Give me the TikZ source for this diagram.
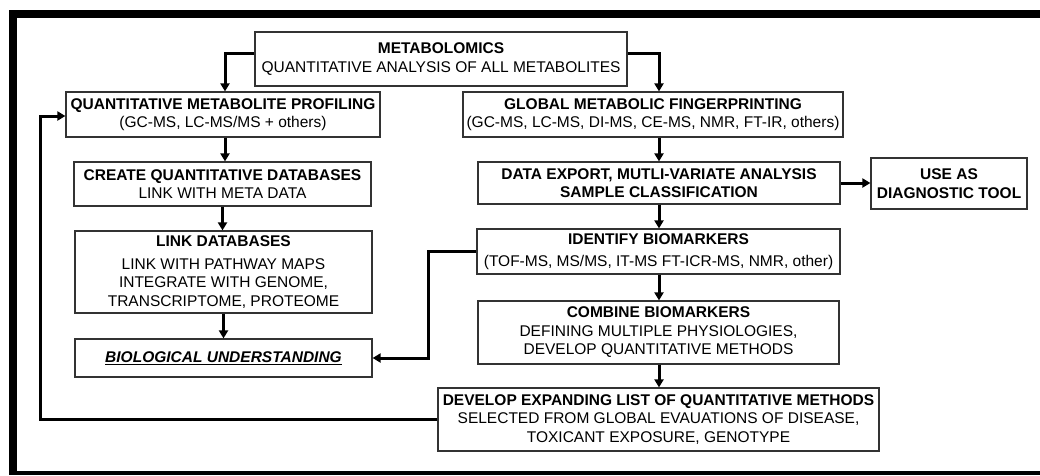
\documentclass[tikz,border=0pt]{standalone}
\usepackage{fontspec}
\setmainfont{Liberation Sans}
\usetikzlibrary{arrows.meta,calc}
\tikzset{
  box/.style={draw=black!80, line width=1.2pt, fill=white, inner sep=0pt, align=center,
    font=\fontsize{15.5}{18.5}\selectfont, text=black},
  arr/.style={line width=3pt, -{Triangle[length=8pt,width=9pt]}},
  frame/.style={fill=black, draw=none}
}
\begin{document}
\begin{tikzpicture}[x=1pt,y=-1pt]
\useasboundingbox (0,0) rectangle (1040,475);
% frame
\fill[frame] (9,10) rectangle (1040,18);
\fill[frame] (9,10) rectangle (17,475);
\fill[frame] (9,471) rectangle (1040,475);

\node[box, minimum width=372pt, minimum height=54pt] (met) at (441,59)
  {\textbf{METABOLOMICS}\\QUANTITATIVE ANALYSIS OF ALL METABOLITES};
\node[box, minimum width=314pt, minimum height=45pt] (qmp) at (223,114.5)
  {\textbf{QUANTITATIVE METABOLITE PROFILING}\\(GC-MS, LC-MS/MS + others)};
\node[box, minimum width=380pt, minimum height=45pt] (gmf) at (653,114.5)
  {\textbf{GLOBAL METABOLIC FINGERPRINTING}\\(GC-MS, LC-MS, DI-MS, CE-MS, NMR, FT-IR, others)};
\node[box, minimum width=297pt, minimum height=44pt] (cqd) at (222.5,184)
  {\textbf{CREATE QUANTITATIVE DATABASES}\\LINK WITH META DATA};
\node[box, minimum width=362pt, minimum height=42pt] (de) at (659,183)
  {\textbf{DATA EXPORT, MUTLI-VARIATE ANALYSIS}\\\textbf{SAMPLE CLASSIFICATION}};
\node[box, minimum width=156pt, minimum height=51pt] (use) at (949,183.5)
  {\textbf{USE AS}\\\textbf{DIAGNOSTIC TOOL}};
\node[box, minimum width=297pt, minimum height=82pt] (ld) at (223.5,272)
  {\textbf{LINK DATABASES}\\[4pt]LINK WITH PATHWAY MAPS\\INTEGRATE WITH GENOME,\\TRANSCRIPTOME, PROTEOME};
\node[box, minimum width=363pt, minimum height=45pt] (idb) at (658.5,251.5)
  {\textbf{IDENTIFY BIOMARKERS}\\[4pt](TOF-MS, MS/MS, IT-MS FT-ICR-MS, NMR, other)};
\node[box, minimum width=297pt, minimum height=38pt] (bu) at (223.5,358)
  {\underline{\textbf{\textit{BIOLOGICAL UNDERSTANDING}}}};
\node[box, minimum width=361pt, minimum height=63pt] (cb) at (658.5,332.5)
  {\textbf{COMBINE BIOMARKERS}\\DEFINING MULTIPLE PHYSIOLOGIES,\\DEVELOP QUANTITATIVE METHODS};
\node[box, minimum width=441pt, minimum height=63pt] (dev) at (658.5,419.5)
  {\textbf{DEVELOP EXPANDING LIST OF QUANTITATIVE METHODS}\\SELECTED FROM GLOBAL EVAUATIONS OF DISEASE,\\TOXICANT EXPOSURE, GENOTYPE};

\coordinate (k1) at (428,252);
\coordinate (fb) at (40,420);

\draw[arr] ($(met.west)+(0,-6)$) -| ([xshift=2pt]qmp.north);
\draw[arr] ($(met.east)+(0,-6)$) -| ([xshift=6pt]gmf.north);
\draw[arr] ([xshift=2pt]qmp.south) -- ([xshift=2pt]qmp.south |- cqd.north);
\draw[arr] (cqd.south) -- (cqd.south |- ld.north);
\draw[arr] (ld.south) -- (ld.south |- bu.north);
\draw[arr] (gmf.south -| de.north) -- (de.north);
\draw[arr] (de.south) -- (de.south |- idb.north);
\draw[arr] (de.east) -- (de.east -| use.west);
\draw[arr] (idb.south -| de.south) -- (de.south |- cb.north);
\draw[arr] (cb.south -| de.south) -- (de.south |- dev.north);
\draw[arr] (idb.west) -- (idb.west -| k1) |- (bu.east);
\draw[arr] (dev.west) -- (dev.west -| fb) |- ([yshift=-1.5pt]qmp.west);
\end{tikzpicture}
\end{document}
